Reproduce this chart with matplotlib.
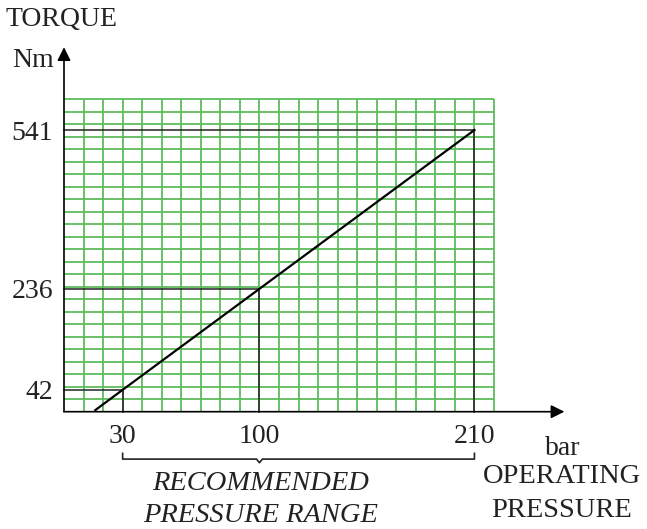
import numpy as np
import matplotlib
matplotlib.use("Agg")
import matplotlib.pyplot as plt

# torque curve
pressure = [16, 30, 100, 210]      # bar
torque = [3, 42, 236, 541]         # Nm
# marked points with guide lines
mark_p = [30, 100, 210]
mark_t = [42, 236, 541]
rec_range = [30, 210]
rec_mark = 100

W, H = 647, 529
plt.rcParams['font.family'] = ['Liberation Serif', 'DejaVu Serif']

def fx(x, y):
    # pixel position -> figure fraction
    return x / W, 1 - y / H

fig = plt.figure(figsize=(W / 100, H / 100), dpi=100)
ax = fig.add_axes([64 / W, 1 - 411.7 / H, 430 / W, 312.4 / H])
ax.set_xlim(0, 220)
ax.set_ylim(0, 600)
for s in ax.spines.values():
    s.set_visible(False)

# green grid paper
green = '#5dbd5d'
ax.vlines(np.arange(10, 221, 10), 0, 600, colors=green, lw=1.3, clip_on=False, zorder=1)
ax.hlines(np.arange(24, 601, 24), 0, 220, colors=green, lw=1.3, clip_on=False, zorder=1)

# guide lines to the marked points
for p, t in zip(mark_p, mark_t):
    ax.plot([0, p, p], [t, t, 0], color='#222222', lw=1.1, zorder=2, clip_on=False)

ax.plot(pressure, torque, color='black', lw=1.6, zorder=3)

# axes with arrows
arr = dict(arrowstyle='-|>', color='black', lw=1.2, mutation_scale=20,
           shrinkA=0, shrinkB=0)
ax.annotate('', xy=(0, 700), xytext=(0, 0), arrowprops=arr, annotation_clip=False)
ax.annotate('', xy=(256, 0), xytext=(0, 0), arrowprops=arr, annotation_clip=False)

ax.set_xticks(mark_p)
ax.set_xticklabels([str(v) for v in mark_p])
ax.set_yticks(mark_t)
ax.set_yticklabels([str(v) for v in mark_t])
ax.tick_params(axis='both', length=0, labelsize=20, colors='#222222')
ax.tick_params(axis='y', pad=8)
ax.tick_params(axis='x', pad=9)

# bracket under the recommended range
yb, yt, yn = -91, -80, -98
ax.plot([rec_range[0], rec_range[0], rec_mark - 1.5, rec_mark, rec_mark + 1.5,
         rec_range[1], rec_range[1]],
        [yt, yb, yb, yn, yb, yb, yt], color='#222222', lw=1.2, clip_on=False)

tc = '#222222'
fig.text(*fx(5, 26), 'TORQUE', fontsize=20, color=tc, va='baseline', ha='left')
fig.text(*fx(12, 67), 'Nm', fontsize=20, color=tc, va='baseline', ha='left')
fig.text(*fx(545, 455), 'bar', fontsize=20, color=tc, va='baseline', ha='left')
fig.text(*fx(562, 483), 'OPERATING', fontsize=20.5, color=tc, va='baseline', ha='center')
fig.text(*fx(562, 517), 'PRESSURE', fontsize=20.5, color=tc, va='baseline', ha='center')
fig.text(*fx(261, 490), 'RECOMMENDED', fontsize=20.5, color=tc, style='italic',
         va='baseline', ha='center')
fig.text(*fx(261, 522), 'PRESSURE RANGE', fontsize=20.5, color=tc, style='italic',
         va='baseline', ha='center')

fig.savefig('out.png', dpi=100)
